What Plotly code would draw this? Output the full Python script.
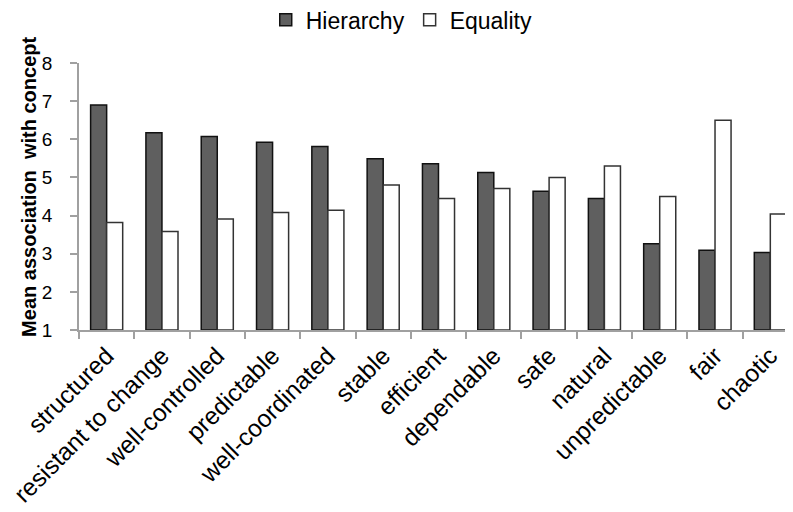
import plotly.graph_objects as go

categories = ["structured", "resistant to change", "well-controlled", "predictable",
              "well-coordinated", "stable", "efficient", "dependable", "safe",
              "natural", "unpredictable", "fair", "chaotic"]
hierarchy = [6.90, 6.17, 6.07, 5.92, 5.81, 5.49, 5.36, 5.13, 4.64, 4.45, 3.26, 3.09, 3.03]
equality = [3.82, 3.58, 3.91, 4.08, 4.14, 4.80, 4.45, 4.71, 5.00, 5.30, 4.50, 6.50, 4.04]
y_ticks = [1, 2, 3, 4, 5, 6, 7, 8]

FONT = "Liberation Sans, Arial, sans-serif"

fig = go.Figure()
fig.add_trace(go.Bar(name="Hierarchy", x=categories, y=[v - 1 for v in hierarchy], base=1,
                     marker=dict(color="#5f5f5f", line=dict(color="#111111", width=1.5))))
fig.add_trace(go.Bar(name="Equality", x=categories, y=[v - 1 for v in equality], base=1,
                     marker=dict(color="#ffffff", line=dict(color="#333333", width=1.5))))

fig.update_layout(
    width=785, height=504,
    margin=dict(l=71, r=0, t=55, b=182, autoexpand=False),
    paper_bgcolor="white", plot_bgcolor="white",
    barmode="group", bargap=0.42, bargroupgap=0,
    font=dict(family=FONT, color="black"),
    legend=dict(orientation="h", x=0.452, xanchor="center", y=1.162, yanchor="middle",
                font=dict(size=23, family=FONT), traceorder="normal", itemwidth=30,
                borderwidth=0, bgcolor="rgba(0,0,0,0)"),
    showlegend=True,
)
fig.update_xaxes(
    type="category", range=[-0.5, 12.41], automargin=False,
    showline=True, linecolor="#a0a0a0", linewidth=1.5,
    ticks="outside", tickson="boundaries", ticklen=7, tickcolor="#a0a0a0", tickwidth=1.5,
    tickangle=-45, tickfont=dict(size=24.5, family=FONT, color="black"),
    showgrid=False, zeroline=False,
)
fig.update_yaxes(
    range=[1, 8], tickvals=y_ticks, automargin=False,
    showline=True, linecolor="#a0a0a0", linewidth=1.5,
    ticks="outside", ticklen=7, tickcolor="#a0a0a0", tickwidth=1.5,
    tickfont=dict(size=19, family=FONT, color="black"),
    ticklabelstandoff=14,
    showgrid=False, zeroline=False,
)
fig.add_annotation(
    text="<b>Mean association  with concept</b>", textangle=-90,
    xref="paper", yref="paper", x=0, y=0.536, xanchor="center", yanchor="middle",
    xshift=-50, showarrow=False, font=dict(size=20, family=FONT, color="black"),
)

fig.write_html("out.html")
